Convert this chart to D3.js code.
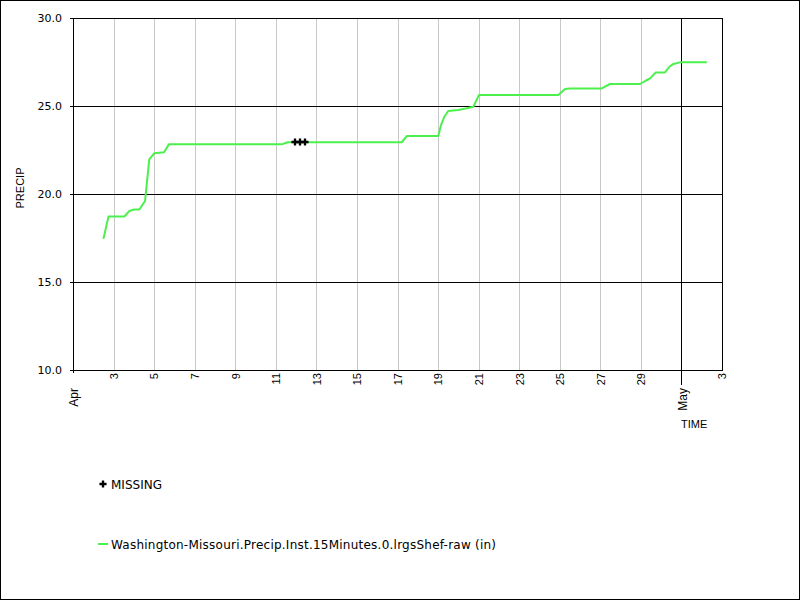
<!DOCTYPE html>
<html>
<head>
<meta charset="utf-8">
<script src="https://cdn.jsdelivr.net/npm/d3@7"></script>
<style>
  html, body { margin: 0; padding: 0; background: #fff; }
  svg { display: block; }
</style>
</head>
<body>
<svg id="chart" width="800" height="600"></svg>
<script>
// ---------- data ----------
const seriesName = "Washington-Missouri.Precip.Inst.15Minutes.0.lrgsShef-raw (in)";
const times = [
  "2021-04-02T12:00", "2021-04-02T18:00", "2021-04-03T12:45", "2021-04-03T18:30",
  "2021-04-04T00:30", "2021-04-04T06:30", "2021-04-04T13:15", "2021-04-04T18:15",
  "2021-04-05T00:00", "2021-04-05T11:45", "2021-04-05T17:30", "2021-04-11T07:00",
  "2021-04-11T14:00", "2021-04-17T05:00", "2021-04-17T11:15", "2021-04-19T00:15",
  "2021-04-19T03:30", "2021-04-19T07:30", "2021-04-19T12:00", "2021-04-20T00:00",
  "2021-04-20T10:00", "2021-04-20T17:45", "2021-04-21T00:30", "2021-04-24T22:15",
  "2021-04-25T06:15", "2021-04-25T12:00", "2021-04-27T01:45", "2021-04-27T11:30",
  "2021-04-28T23:00", "2021-04-29T05:00", "2021-04-29T11:00", "2021-04-29T17:30",
  "2021-04-30T04:30", "2021-04-30T09:45", "2021-04-30T14:30", "2021-04-30T22:15",
  "2021-05-02T06:00"
];
const precip = [
  17.45, 18.72, 18.72, 19.03,
  19.12, 19.12, 19.60, 21.97,
  22.31, 22.37, 22.82, 22.82,
  22.94, 22.94, 23.30, 23.30,
  23.92, 24.39, 24.72, 24.77,
  24.87, 24.96, 25.63, 25.63,
  25.97, 26.00, 26.00, 26.25,
  26.25, 26.42, 26.57, 26.91,
  26.91, 27.23, 27.39, 27.48,
  27.48
];
const missingTimes = ["2021-04-11T22:45", "2021-04-12T04:30", "2021-04-12T10:30"];
const missingValues = [22.94, 22.94, 22.94];

const yTicks = [10, 15, 20, 25, 30];
const dayTickDates = ["2021-04-03", "2021-04-05", "2021-04-07", "2021-04-09", "2021-04-11",
  "2021-04-13", "2021-04-15", "2021-04-17", "2021-04-19", "2021-04-21", "2021-04-23",
  "2021-04-25", "2021-04-27", "2021-04-29", "2021-05-03"];
const dayTickLabels = ["3", "5", "7", "9", "11", "13", "15", "17", "19", "21", "23", "25", "27", "29", "3"];
const monthTickDates = ["2021-04-01", "2021-05-01"];
const monthTickLabels = ["Apr", "May"];
const xDomain = ["2021-04-01", "2021-05-03"];
const yDomain = [10, 30];

// ---------- setup ----------
const parseT = d3.timeParse("%Y-%m-%dT%H:%M");
const parseD = d3.timeParse("%Y-%m-%d");
const svg = d3.select("#chart");
const L = 73, R = 722, T = 18, B = 370;

const x = d3.scaleTime().domain(xDomain.map(parseD)).range([L, R]);
const y = d3.scaleLinear().domain(yDomain).range([B, T]);

const px = v => Math.round(v) + 0.5;

// outer frame
svg.append("rect").attr("x", 0.5).attr("y", 0.5).attr("width", 799).attr("height", 599)
  .attr("fill", "#fff").attr("stroke", "#000").attr("stroke-width", 1);

// vertical gray grid lines (day ticks, excluding the right edge)
const dayDates = dayTickDates.map(parseD);
svg.append("g").selectAll("line").data(dayDates.slice(0, -1)).join("line")
  .attr("x1", d => px(x(d))).attr("x2", d => px(x(d)))
  .attr("y1", T).attr("y2", B)
  .attr("stroke", "#c8c8c8").attr("stroke-width", 1);

// horizontal black grid lines
svg.append("g").selectAll("line").data(yTicks).join("line")
  .attr("x1", L - 3).attr("x2", R + 1)
  .attr("y1", d => px(y(d))).attr("y2", d => px(y(d)))
  .attr("stroke", "#000").attr("stroke-width", 1);

// left & right axes
svg.append("line").attr("x1", px(L)).attr("x2", px(L)).attr("y1", T).attr("y2", B + 3)
  .attr("stroke", "#000");
svg.append("line").attr("x1", px(R)).attr("x2", px(R)).attr("y1", T).attr("y2", B + 1)
  .attr("stroke", "#000");

// month lines (May is a black line through the plot)
const monthDates = monthTickDates.map(parseD);
svg.append("g").selectAll("line").data(monthDates.slice(1)).join("line")
  .attr("x1", d => px(x(d))).attr("x2", d => px(x(d)))
  .attr("y1", T).attr("y2", B + 15)
  .attr("stroke", "#000").attr("stroke-width", 1);

// y tick labels via axis
const yAxis = d3.axisLeft(y).tickValues(yTicks).tickFormat(d3.format(".1f")).tickSize(0).tickPadding(11);
const yg = svg.append("g").attr("transform", `translate(${L},0)`).call(yAxis);
yg.select(".domain").remove();
yg.selectAll("text").attr("font-family", "DejaVu Sans").attr("font-size", 11).attr("fill", "#000");

// x day tick labels
svg.append("g").selectAll("text").data(dayDates).join("text")
  .attr("transform", d => `translate(${x(d) + 0.5},${B + 3}) rotate(-90)`)
  .attr("text-anchor", "end").attr("dy", "0.35em")
  .attr("font-family", "Liberation Sans, Arial, sans-serif").attr("font-size", 11)
  .text((d, i) => dayTickLabels[i]);

// month labels
svg.append("g").selectAll("text").data(monthDates).join("text")
  .attr("transform", d => `translate(${x(d) + 1},${B + 18}) rotate(-90)`)
  .attr("text-anchor", "end").attr("dy", "0.35em")
  .attr("font-family", "Liberation Sans, Arial, sans-serif").attr("font-size", 12)
  .text((d, i) => monthTickLabels[i]);

// axis titles
svg.append("text").attr("transform", `translate(24,188) rotate(-90)`)
  .attr("text-anchor", "middle")
  .attr("font-family", "Liberation Sans, Arial, sans-serif").attr("font-size", 11)
  .text("PRECIP");
svg.append("text").attr("x", 681).attr("y", 428)
  .attr("font-family", "Liberation Sans, Arial, sans-serif").attr("font-size", 11)
  .text("TIME");

// data line
const data = times.map((t, i) => ({ t: parseT(t), v: precip[i] }));
const line = d3.line().x(d => x(d.t)).y(d => y(d.v));
svg.append("path").datum(data).attr("d", line)
  .attr("fill", "none").attr("stroke", "#4cf04c").attr("stroke-width", 2)
  .attr("stroke-linejoin", "round");

// missing markers (plus symbols)
const plus = d3.symbol().type(d3.symbolCross).size(28);
const miss = missingTimes.map((t, i) => ({ t: parseT(t), v: missingValues[i] }));
svg.append("g").selectAll("path").data(miss).join("path")
  .attr("transform", d => `translate(${Math.round(x(d.t))},${Math.round(y(d.v))})`)
  .attr("d", plus).attr("fill", "#000");

// legend
svg.append("path").attr("transform", "translate(103,484)").attr("d", plus).attr("fill", "#000");
svg.append("text").attr("x", 111).attr("y", 489)
  .attr("font-family", "DejaVu Sans").attr("font-size", 12).text("MISSING");
svg.append("line").attr("x1", 98).attr("x2", 108).attr("y1", 544).attr("y2", 544)
  .attr("stroke", "#4cf04c").attr("stroke-width", 2);
svg.append("text").attr("x", 111).attr("y", 549)
  .attr("font-family", "DejaVu Sans").attr("font-size", 12)
  .attr("textLength", 385).attr("lengthAdjust", "spacing")
  .text(seriesName);
</script>
</body>
</html>
